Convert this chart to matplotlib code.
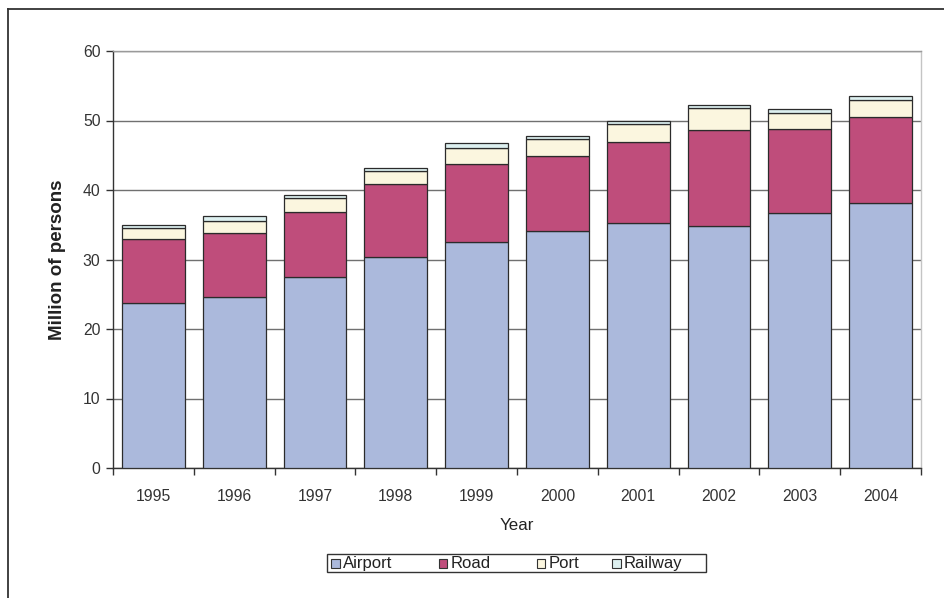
import matplotlib
matplotlib.use("Agg")
import matplotlib.pyplot as plt
from matplotlib.lines import Line2D
from matplotlib.patches import Rectangle
import numpy as np

plt.rcParams['font.family'] = ['Liberation Sans', 'DejaVu Sans']

years = ["1995", "1996", "1997", "1998", "1999", "2000", "2001", "2002", "2003", "2004"]
airport = [23.8, 24.6, 27.5, 30.3, 32.5, 34.1, 35.3, 34.8, 36.7, 38.2]
road = [9.1, 9.2, 9.4, 10.5, 11.3, 10.8, 11.6, 13.8, 12.1, 12.3]
port = [1.7, 1.8, 1.9, 2.0, 2.3, 2.4, 2.6, 3.2, 2.3, 2.5]
railway = [0.3, 0.6, 0.5, 0.4, 0.6, 0.5, 0.4, 0.4, 0.5, 0.5]

series = [("Airport", airport, "#abb9dc"),
          ("Road", road, "#bf4d7b"),
          ("Port", port, "#fbf6df"),
          ("Railway", railway, "#ddf0f0")]

W, H = 945, 598
fig = plt.figure(figsize=(W / 100, H / 100), dpi=100)
ax = fig.add_axes([113 / W, 1 - 468 / H, (921 - 113) / W, (468 - 51) / H])

x = np.arange(len(years))
bottom = np.zeros(len(years))
for name, vals, color in series:
    vals = np.array(vals)
    ax.bar(x, vals, width=0.776, bottom=bottom, color=color, edgecolor="#2b2b2b",
           linewidth=0.9, label=name, zorder=3)
    bottom += vals

ax.set_xlim(-0.5, len(years) - 0.5)
ax.set_ylim(0, 60)
ax.set_yticks(np.arange(0, 61, 10))
ax.yaxis.grid(True, color="#707070", linewidth=1.0, zorder=0)
ax.set_axisbelow(True)

# category labels centred, ticks on category boundaries
ax.set_xticks(x)
ax.set_xticklabels(years)
ax.set_xticks(np.arange(-0.5, len(years), 1.0), minor=True)
ax.tick_params(axis="x", which="major", length=0, pad=15, labelsize=11.3, labelcolor="#333333")
ax.tick_params(axis="x", which="minor", length=5, width=1, color="#333333", direction="out")
ax.tick_params(axis="y", length=5, width=1, color="#333333", direction="out",
               labelsize=11.3, labelcolor="#333333", pad=4)

for side in ("left", "bottom"):
    ax.spines[side].set_color("#333333")
    ax.spines[side].set_linewidth(1.0)
ax.spines["top"].set_color("#9a9a9a")
ax.spines["right"].set_color("#c4c4c4")
ax.spines["top"].set_linewidth(1.0)
ax.spines["right"].set_linewidth(1.0)

ax.set_ylabel("Million of persons", fontsize=13.5, fontweight="bold", color="#222222", labelpad=12)
ax.set_xlabel("Year", fontsize=12.2, color="#222222", labelpad=10)

# legend box laid out in pixel positions below the axes
def fx(px):
    return px / W

def fy(py):
    return 1 - py / H

fig.add_artist(Rectangle((fx(327), fy(572)), fx(706) - fx(327), fy(554) - fy(572),
                         transform=fig.transFigure, facecolor="white",
                         edgecolor="#333333", linewidth=1.0))
legend_x = [331, 439, 537, 612]
for (name, _, color), lx in zip(series, legend_x):
    fig.add_artist(Rectangle((fx(lx), fy(567.5)), fx(lx + 8.5) - fx(lx), fy(559) - fy(567.5),
                             transform=fig.transFigure, facecolor=color,
                             edgecolor="#333333", linewidth=0.8))
    fig.text(fx(lx + 12), fy(563.5), name, fontsize=12, color="#222222",
             ha="left", va="center")

# outer frame (top and left edges)
fig.add_artist(Line2D([fx(8), 1.0], [fy(9), fy(9)], color="#333333", linewidth=1.3))
fig.add_artist(Line2D([fx(8), fx(8)], [fy(9), 0.0], color="#333333", linewidth=1.3))

fig.savefig("out.png", dpi=100)
